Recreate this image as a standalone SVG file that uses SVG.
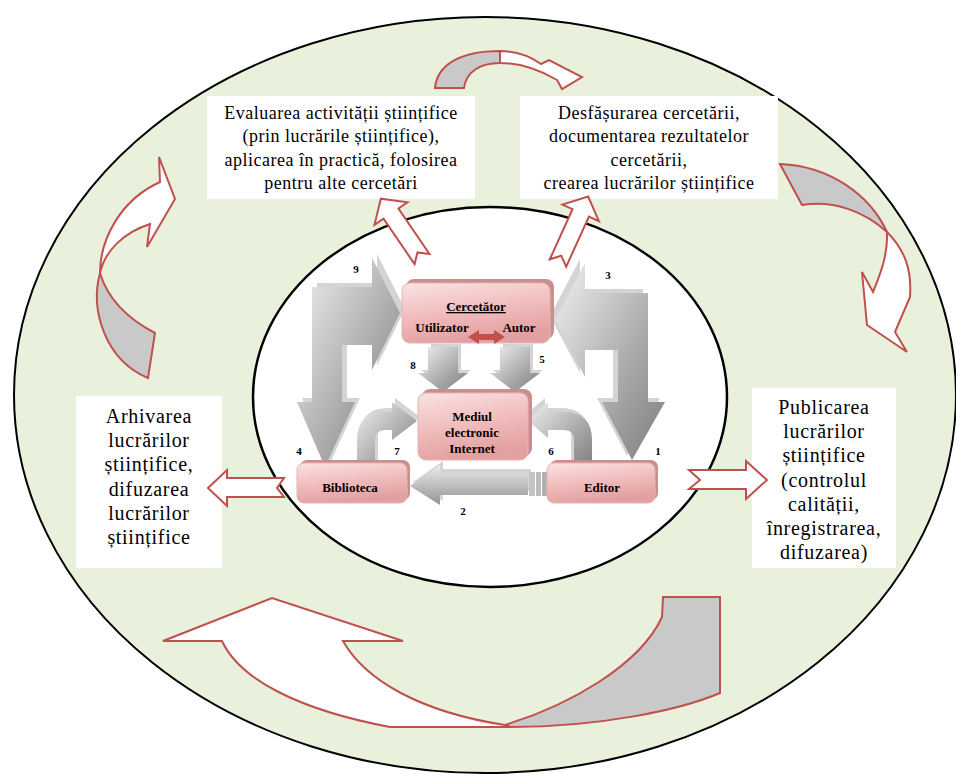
<svg xmlns="http://www.w3.org/2000/svg" width="956" height="776" viewBox="0 0 956 776">
<defs>
<linearGradient id="pink" x1="0" y1="0" x2="0.3" y2="1">
<stop offset="0" stop-color="#fbe2e2"/>
<stop offset="0.55" stop-color="#f0bcbc"/>
<stop offset="1" stop-color="#e3a0a0"/>
</linearGradient>
<linearGradient id="gray" x1="0" y1="0" x2="1" y2="1">
<stop offset="0" stop-color="#f2f2f2"/>
<stop offset="0.6" stop-color="#a8a8a8"/>
<stop offset="1" stop-color="#7e7e7e"/>
</linearGradient>
<linearGradient id="grayv" x1="0" y1="0" x2="0" y2="1">
<stop offset="0" stop-color="#ececec"/>
<stop offset="1" stop-color="#929292"/>
</linearGradient>
</defs>
<style>
.ring{fill:#e9f0db;stroke:#000;stroke-width:2}
.inner{fill:#fff;stroke:#000;stroke-width:2.5}
.box{fill:#fff}
.t{font-family:"Liberation Serif","Times New Roman",serif;fill:#000;text-anchor:middle}
.tb{font-size:18px;letter-spacing:0.5px}
.ts{font-size:20px;letter-spacing:0.7px}
.lab{font-size:13px;font-weight:bold}
.num{font-size:11px;font-weight:bold}
.ra{fill:#fff;stroke:#c0504d;stroke-width:2;stroke-linejoin:miter}
.rg{fill:#c9c9c9;stroke:#c0504d;stroke-width:2;stroke-linejoin:miter}
.ga{fill:url(#gray)}
.gs{fill:#d4d4d4}
.pb{fill:url(#pink);stroke:#e6b4b4;stroke-width:1}
.ps{fill:#c98f8f}
</style>
<rect width="956" height="776" fill="#fff"/>
<ellipse class="ring" cx="485" cy="395" rx="471" ry="378"/>
<g id="box-evaluare">
<rect class="box" x="207" y="96" width="268" height="103"/>
<text class="t tb" x="341" y="119">Evaluarea activității științifice</text>
<text class="t tb" x="341" y="142">(prin lucrările științifice),</text>
<text class="t tb" x="341" y="166">aplicarea în practică, folosirea</text>
<text class="t tb" x="341" y="189">pentru alte cercetări</text>
</g>
<g id="box-desfasurare">
<rect class="box" x="520" y="96" width="258" height="103"/>
<text class="t tb" x="649" y="119">Desfășurarea cercetării,</text>
<text class="t tb" x="649" y="142">documentarea rezultatelor</text>
<text class="t tb" x="649" y="166">cercetării,</text>
<text class="t tb" x="649" y="189">crearea lucrărilor științifice</text>
</g>
<g id="box-arhivare">
<rect class="box" x="76" y="396" width="146" height="172"/>
<text class="t ts" x="149" y="423">Arhivarea</text>
<text class="t ts" x="149" y="447">lucrărilor</text>
<text class="t ts" x="149" y="471">științifice,</text>
<text class="t ts" x="149" y="496">difuzarea</text>
<text class="t ts" x="149" y="520">lucrărilor</text>
<text class="t ts" x="149" y="544">științifice</text>
</g>
<g id="box-publicare">
<rect class="box" x="752" y="388" width="144" height="180"/>
<text class="t ts" x="824" y="414">Publicarea</text>
<text class="t ts" x="824" y="438">lucrărilor</text>
<text class="t ts" x="824" y="462">științifice</text>
<text class="t ts" x="824" y="487">(controlul</text>
<text class="t ts" x="824" y="511">calității,</text>
<text class="t ts" x="824" y="535">înregistrarea,</text>
<text class="t ts" x="824" y="559">difuzarea)</text>
</g>
<ellipse class="inner" cx="490" cy="397" rx="237" ry="190"/>
<g id="connectors">
<path class="rg" d="M435,88 C437,65 460,51 500,51 L500,63 C480,63 466,72 464,88 Z"/>
<path class="ra" d="M500,51 C516,51 530,56 541,64 L549,60 L582,77 L562,89 L557,80 C540,70 520,63 500,63 Z"/>
<path class="rg" d="M780,164 C830,166 870,195 887,232 C865,212 835,200 802,205 Z"/>
<path class="ra" d="M887,232 C905,250 912,270 910,297 L895,332 L907,352 L867,325 L862,272 L873,292 C880,275 888,255 887,232 Z"/>
<path class="rg" d="M100,273 C90,310 105,360 148,378 L155,333 C130,320 108,300 100,273 Z"/>
<path class="ra" d="M100,273 C100,240 120,200 160,182 L159,157 L175,199 L147,247 L150,224 C125,232 105,250 100,273 Z"/>
<path class="rg" d="M505,725 C570,705 640,665 662,617 L663,597 L720,597 L720,693 C680,710 600,727 510,727 Z"/>
<path class="ra" d="M163,641 L272,598 L403,641 L343,641 C365,680 420,712 505,725 L510,727 L390,727 C300,710 240,680 222,641 Z"/>
<path class="ra" transform="translate(422,259) rotate(-124.3)" d="M0,-9 L55,-9 L55,-20 L73,0 L55,20 L55,9 L0,9 L8,0 Z"/>
<path class="ra" transform="translate(558,263) rotate(-65.6)" d="M0,-9 L55,-9 L55,-20 L73,0 L55,20 L55,9 L0,9 L8,0 Z"/>
<path class="ra" d="M284,478 L227,478 L227,470 L208,488 L227,506 L227,497 L284,497 L277,488 Z"/>
<path class="ra" d="M689,470 L746,470 L746,461 L767,480 L746,499 L746,489 L689,489 L700,480 Z"/>
<path class="gs" transform="translate(5,-4)" d="M312,287 L372,287 L372,258 L400,313 L372,370 L372,345 L342,345 L342,402 L355,402 L325,467 L297,402 L312,402 Z"/>
<path class="ga" d="M312,287 L372,287 L372,258 L400,313 L372,370 L372,345 L342,345 L342,402 L355,402 L325,467 L297,402 L312,402 Z"/>
<path class="gs" transform="translate(-5,-4)" d="M648,293 L585,293 L585,263 L555,320 L585,377 L585,350 L618,350 L618,402 L602,402 L632,460 L665,402 L648,402 Z"/>
<path class="ga" d="M648,293 L585,293 L585,263 L555,320 L585,377 L585,350 L618,350 L618,402 L602,402 L632,460 L665,402 L648,402 Z"/>
<path class="gs" transform="translate(3,-3)" d="M428,347 L458,347 L458,373 L468,373 L443,392 L418,373 L428,373 Z"/>
<path class="ga" d="M428,347 L458,347 L458,373 L468,373 L443,392 L418,373 L428,373 Z"/>
<path class="gs" transform="translate(3,-3)" d="M500,347 L530,347 L530,373 L540,373 L515,392 L490,373 L500,373 Z"/>
<path class="ga" d="M500,347 L530,347 L530,373 L540,373 L515,392 L490,373 L500,373 Z"/>
<path class="gs" transform="translate(3,-4)" d="M357,468 L357,440 Q357,412 385,412 L392,412 L392,402 L417,421 L392,440 L392,430 L385,430 Q375,430 375,440 L375,468 Z"/>
<path class="ga" d="M357,468 L357,440 Q357,412 385,412 L392,412 L392,402 L417,421 L392,440 L392,430 L385,430 Q375,430 375,440 L375,468 Z"/>
<path class="gs" transform="translate(-3,-4)" d="M592,468 L592,440 Q592,412 564,412 L548,412 L548,402 L527,420 L548,438 L548,430 L564,430 Q574,430 574,440 L574,468 Z"/>
<path class="ga" d="M592,468 L592,440 Q592,412 564,412 L548,412 L548,402 L527,420 L548,438 L548,430 L564,430 Q574,430 574,440 L574,468 Z"/>
<path class="gs" transform="translate(3,-4)" d="M410,486 L440,465 L440,473 L528,473 L528,495 L440,495 L440,505 Z"/>
<path fill="url(#grayv)" d="M410,486 L440,465 L440,473 L528,473 L528,495 L440,495 L440,505 Z"/>
<rect x="529" y="472" width="6" height="24" fill="#c4c4c4"/>
<rect x="536" y="472" width="5" height="24" fill="#bdbdbd"/>
<rect x="542" y="472" width="5" height="24" fill="#b0b0b0"/>
</g>
<g id="node-cercetator">
<rect class="ps" x="406" y="279" width="148" height="60" rx="8"/>
<rect class="pb" x="402" y="283" width="148" height="60" rx="8"/>
<text class="t lab" x="476" y="311" text-decoration="underline">Cercetător</text>
<text class="t lab" x="442" y="332">Utilizator</text>
<text class="t lab" x="519" y="332">Autor</text>
<path fill="#c0504d" d="M468,337 L479,330 L479,334 L494,334 L494,330 L505,337 L494,344 L494,340 L479,340 L479,344 Z"/>
</g>
<g id="node-mediul">
<rect class="ps" x="422" y="389" width="110" height="67" rx="8"/>
<rect class="pb" x="418" y="393" width="110" height="67" rx="8"/>
<text class="t lab" x="472" y="421">Mediul</text>
<text class="t lab" x="472" y="437">electronic</text>
<text class="t lab" x="472" y="453">Internet</text>
</g>
<g id="node-biblioteca">
<rect class="ps" x="300" y="460" width="110" height="40" rx="7"/>
<rect class="pb" x="297" y="463" width="110" height="40" rx="7"/>
<text class="t lab" x="350" y="492">Biblioteca</text>
</g>
<g id="node-editor">
<rect class="ps" x="550" y="460" width="108" height="40" rx="7"/>
<rect class="pb" x="547" y="463" width="108" height="40" rx="7"/>
<text class="t lab" x="602" y="492">Editor</text>
</g>
<g id="numbers">
<text class="t num" x="356" y="273">9</text>
<text class="t num" x="608" y="279">3</text>
<text class="t num" x="413" y="369">8</text>
<text class="t num" x="542" y="363">5</text>
<text class="t num" x="299" y="455">4</text>
<text class="t num" x="397" y="455">7</text>
<text class="t num" x="551" y="455">6</text>
<text class="t num" x="658" y="455">1</text>
<text class="t num" x="463" y="515">2</text>
</g>
</svg>
